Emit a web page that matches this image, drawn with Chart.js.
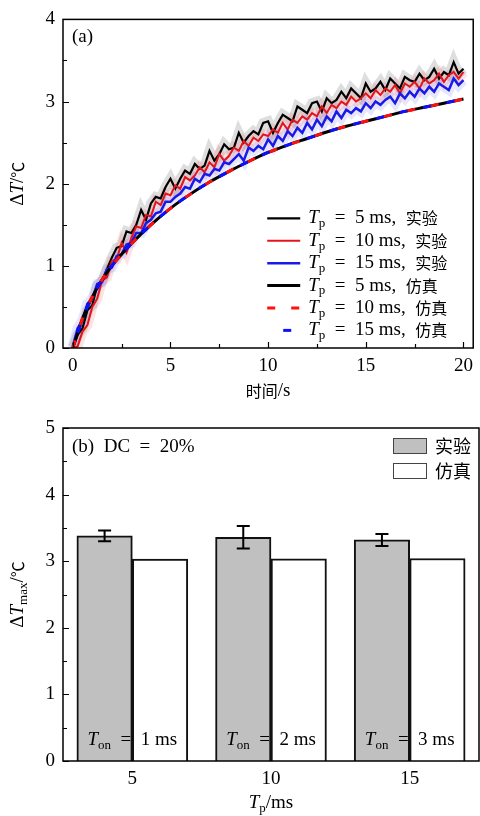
<!DOCTYPE html>
<html>
<head>
<meta charset="utf-8">
<script src="https://cdn.jsdelivr.net/npm/chart.js@4.4.0/dist/chart.umd.min.js"></script>
<style>
  html, body { margin: 0; padding: 0; background: #fff; }
  #top { position: relative; width: 480px; height: 405px; }
  #bottom { position: relative; width: 480px; height: 411px; }
</style>
</head>
<body>
<div id="top"><canvas id="chartA"></canvas></div>
<div id="bottom"><canvas id="chartB"></canvas></div>
<script>
// (a) temperature rise vs time, sampled every 0.25 s
const expTimes = Array.from({ length: 81 }, (_, i) => i * 0.25);
const expT5 = [
  0.00, 0.16, 0.24, 0.46, 0.52, 0.76, 0.82, 0.96, 1.10, 1.22,
  1.24, 1.42, 1.40, 1.50, 1.68, 1.56, 1.76, 1.84, 1.82, 1.96,
  2.06, 1.94, 2.06, 2.16, 2.12, 2.24, 2.18, 2.22, 2.40, 2.28,
  2.36, 2.48, 2.42, 2.44, 2.62, 2.50, 2.58, 2.64, 2.60, 2.74,
  2.76, 2.62, 2.74, 2.84, 2.80, 2.76, 2.94, 2.90, 2.86, 2.98,
  3.00, 2.88, 3.04, 2.98, 3.02, 3.12, 3.04, 3.16, 3.10, 3.04,
  3.22, 3.12, 3.16, 3.24, 3.14, 3.28, 3.22, 3.16, 3.30, 3.26,
  3.24, 3.34, 3.26, 3.30, 3.40, 3.28, 3.36, 3.32, 3.48, 3.34,
  3.40
];
const expT10 = [
  0.00, 0.02, 0.20, 0.28, 0.50, 0.60, 0.82, 0.86, 1.06, 1.08,
  1.28, 1.16, 1.34, 1.48, 1.46, 1.62, 1.60, 1.78, 1.74, 1.88,
  1.86, 1.98, 1.94, 2.08, 2.04, 2.10, 2.20, 2.14, 2.26, 2.20,
  2.36, 2.28, 2.34, 2.44, 2.40, 2.52, 2.46, 2.56, 2.52, 2.60,
  2.58, 2.66, 2.62, 2.74, 2.66, 2.78, 2.74, 2.82, 2.78, 2.86,
  2.82, 2.94, 2.86, 2.96, 2.92, 3.00, 2.96, 3.06, 3.00, 3.04,
  3.10, 3.04, 3.14, 3.08, 3.16, 3.12, 3.20, 3.10, 3.22, 3.18,
  3.24, 3.16, 3.28, 3.22, 3.26, 3.34, 3.24, 3.32, 3.36, 3.28,
  3.36
];
const expT15 = [
  0.02, 0.24, 0.34, 0.54, 0.60, 0.78, 0.80, 0.96, 0.98, 1.12,
  1.14, 1.26, 1.28, 1.40, 1.40, 1.52, 1.56, 1.64, 1.66, 1.78,
  1.78, 1.84, 1.88, 1.96, 1.94, 2.06, 2.02, 2.12, 2.10, 2.18,
  2.16, 2.26, 2.24, 2.30, 2.36, 2.28, 2.44, 2.40, 2.46, 2.42,
  2.54, 2.46, 2.58, 2.52, 2.64, 2.58, 2.68, 2.62, 2.74, 2.66,
  2.78, 2.70, 2.82, 2.76, 2.88, 2.80, 2.90, 2.86, 2.92, 2.88,
  2.98, 2.92, 3.00, 2.96, 3.02, 3.06, 2.98, 3.10, 3.04, 3.12,
  3.06, 3.16, 3.10, 3.18, 3.12, 3.22, 3.18, 3.14, 3.28, 3.20,
  3.26
];
// simulated curves for the three periods coincide
const simTimes = [0, 0.25, 0.5, 0.75, 1, 1.5, 2, 2.5, 3, 4, 5, 6, 7, 8, 9, 10, 11, 12, 13, 14, 15, 16, 17, 18, 19, 20];
const simDT = [0, 0.18, 0.36, 0.5, 0.62, 0.83, 1.0, 1.14, 1.27, 1.5, 1.7, 1.87, 2.02, 2.15, 2.27, 2.38, 2.47, 2.55, 2.63, 2.7, 2.76, 2.82, 2.88, 2.93, 2.98, 3.03];
const xTicksA = [0, 2.5, 5, 7.5, 10, 12.5, 15, 17.5, 20];

// (b) maximum temperature rise, DC = 20%
const periods = [5, 10, 15];
const onTimes = [1, 2, 3];
const expMax = [3.38, 3.36, 3.32];
const expErr = [0.08, 0.17, 0.09];
const simMax = [3.03, 3.035, 3.04];

const SERIF = "'Liberation Serif', 'Noto Sans CJK SC', serif";
const CJK = "'Noto Sans CJK SC', sans-serif";
const FS = 19;
const EN = '\u2002';

function runFont(style, size) {
  if (style === 'i') return `italic ${size}px ${SERIF}`;
  if (style === 'sub') return `${Math.round(size * 0.7)}px ${SERIF}`;
  if (style === 'c') return `${Math.round(size * 0.84)}px ${CJK}`;
  return `${size}px ${SERIF}`;
}

// draws a list of [text, style] pieces, style '' | 'i' | 'sub' | 'c'
function drawRuns(ctx, runs, x, y, size, align) {
  let w = 0;
  runs.forEach(([t, s]) => { ctx.font = runFont(s, size); w += ctx.measureText(t).width; });
  let cx = align === 'center' ? x - w / 2 : (align === 'right' ? x - w : x);
  ctx.textAlign = 'left';
  ctx.textBaseline = 'middle';
  runs.forEach(([t, s]) => {
    ctx.font = runFont(s, size);
    ctx.fillText(t, cx, s === 'sub' ? y + size * 0.28 : y);
    cx += ctx.measureText(t).width;
  });
}

const frameTicks = {
  id: 'frameTicks',
  afterDraw(chart, args, opts) {
    const { ctx, chartArea: a } = chart;
    const sx = chart.scales.x, sy = chart.scales.y;
    ctx.save();
    ctx.strokeStyle = '#000';
    ctx.lineWidth = 1.2;
    ctx.beginPath();
    sy.ticks.forEach(t => {
      const py = Math.round(sy.getPixelForValue(t.value)) + 0.5;
      const len = Number.isInteger(t.value) ? 6 : 4;
      ctx.moveTo(a.left, py);
      ctx.lineTo(a.left + len, py);
    });
    if (opts.xTicks) {
      sx.ticks.forEach(t => {
        const px = Math.round(sx.getPixelForValue(t.value)) + 0.5;
        const len = t.value % 5 === 0 ? 6 : 4;
        ctx.moveTo(px, a.bottom);
        ctx.lineTo(px, a.bottom - len);
      });
    }
    ctx.stroke();
    ctx.lineWidth = 1.5;
    ctx.strokeRect(a.left, a.top, a.right - a.left, a.bottom - a.top);
    ctx.restore();
  }
};

function lineSet(label, data, color, width, dash, offset, order, extra) {
  return Object.assign({
    label, data,
    borderColor: color,
    borderWidth: width,
    borderDash: dash,
    borderDashOffset: offset,
    borderCapStyle: 'butt',
    pointRadius: 0,
    fill: false,
    order
  }, extra || {});
}

const simPoints = simTimes.map((t, i) => ({ x: t, y: simDT[i] }));
const smooth = { cubicInterpolationMode: 'monotone' };

const datasetsA = [
  lineSet('Tp = 5 ms, 实验', expT5, '#000000', 2.2, [], 0, 5),
  lineSet('Tp = 10 ms, 实验', expT10, '#e3141c', 2, [], 0, 4),
  lineSet('Tp = 15 ms, 实验', expT15, '#1a1ae6', 2.5, [], 0, 3),
  lineSet('Tp = 5 ms, 仿真', simPoints, '#000000', 3, [], 0, 2, smooth),
  lineSet('Tp = 10 ms, 仿真', simPoints, '#ff1010', 3, [8, 16], 0, 1, smooth),
  lineSet('Tp = 15 ms, 仿真', simPoints, '#1010ff', 3, [8, 16], 8, 0, smooth),
  lineSet('halo5', expT5, 'rgba(0,0,0,0.13)', 10, [], 0, 8, { halo: true }),
  lineSet('halo10', expT10, 'rgba(240,50,60,0.14)', 10, [], 0, 7, { halo: true }),
  lineSet('halo15', expT15, 'rgba(50,50,240,0.12)', 10, [], 0, 6, { halo: true })
];

const decorA = {
  id: 'decorA',
  afterDraw(chart) {
    const { ctx, chartArea: a } = chart;
    ctx.save();
    ctx.fillStyle = '#000';
    drawRuns(ctx, [['(a)', '']], a.left + 9, a.top + 18, FS, 'left');
    drawRuns(ctx, [['时间', 'c'], ['/s', '']], (a.left + a.right) / 2, a.bottom + 43, FS, 'center');
    ctx.save();
    ctx.translate(18, (a.top + a.bottom) / 2);
    ctx.rotate(-Math.PI / 2);
    drawRuns(ctx, [['Δ', ''], ['T', 'i'], ['/', ''], ['℃', 'c']], 0, 0, FS, 'center');
    ctx.restore();
    // legend
    chart.data.datasets.filter(d => !d.halo).forEach((d, i) => {
      const y = a.top + 199 + i * 22.4;
      ctx.save();
      ctx.strokeStyle = d.borderColor;
      ctx.lineWidth = d.borderWidth;
      ctx.setLineDash(d.borderDash);
      ctx.lineDashOffset = d.borderDashOffset;
      ctx.beginPath();
      ctx.moveTo(a.right - 206, y);
      ctx.lineTo(a.right - 173, y);
      ctx.stroke();
      ctx.restore();
      const cut = d.label.lastIndexOf(' ');
      const latin = d.label.slice(2, cut).replace(' = ', EN + '=' + EN) + EN;
      drawRuns(ctx, [['T', 'i'], ['p', 'sub'], [latin, ''], [d.label.slice(cut + 1), 'c']],
        a.right - 165, y, FS, 'left');
    });
    ctx.restore();
  }
};

new Chart(document.getElementById('chartA'), {
  type: 'line',
  data: { labels: expTimes, datasets: datasetsA },
  options: {
    responsive: true,
    maintainAspectRatio: false,
    animation: false,
    events: [],
    layout: { padding: { top: 16, right: 2, left: 0, bottom: 0 } },
    plugins: { legend: { display: false }, tooltip: { enabled: false }, frameTicks: { xTicks: true } },
    scales: {
      x: {
        type: 'linear', min: -0.5, max: 20.5,
        grid: { display: false, drawTicks: false }, border: { display: false },
        afterBuildTicks: s => { s.ticks = xTicksA.map(v => ({ value: v })); },
        afterFit: s => { s.height = 57; },
        ticks: {
          autoSkip: false, maxRotation: 0, padding: 7, color: '#000',
          font: { family: SERIF, size: FS },
          callback: v => (v % 5 === 0 ? v : '')
        }
      },
      y: {
        min: 0, max: 4,
        grid: { display: false, drawTicks: false }, border: { display: false },
        afterFit: s => { s.width = 63; },
        ticks: {
          stepSize: 0.5, padding: 8, color: '#000',
          font: { family: SERIF, size: FS },
          callback: v => (Number.isInteger(v) ? v : '')
        }
      }
    }
  },
  plugins: [frameTicks, decorA]
});

// (b)
const decorB = {
  id: 'decorB',
  afterDatasetsDraw(chart) {
    const { ctx } = chart;
    const sy = chart.scales.y;
    ctx.save();
    ctx.strokeStyle = '#000';
    ctx.lineWidth = 2;
    chart.getDatasetMeta(0).data.forEach((bar, i) => {
      const top = sy.getPixelForValue(expMax[i] + expErr[i]);
      const bot = sy.getPixelForValue(expMax[i] - expErr[i]);
      ctx.beginPath();
      ctx.moveTo(bar.x, top); ctx.lineTo(bar.x, bot);
      ctx.moveTo(bar.x - 6.5, top); ctx.lineTo(bar.x + 6.5, top);
      ctx.moveTo(bar.x - 6.5, bot); ctx.lineTo(bar.x + 6.5, bot);
      ctx.stroke();
    });
    ctx.restore();
  },
  afterDraw(chart) {
    const { ctx, chartArea: a } = chart;
    const sx = chart.scales.x;
    ctx.save();
    ctx.fillStyle = '#000';
    drawRuns(ctx, [['(b)' + EN + 'DC' + EN + '=' + EN + '20%', '']], a.left + 9, a.top + 19, FS, 'left');
    periods.forEach((p, i) => {
      drawRuns(ctx, [['T', 'i'], ['on', 'sub'], [EN + '=' + EN + onTimes[i] + ' ms', '']],
        sx.getPixelForValue(p), a.bottom - 21, FS, 'center');
    });
    drawRuns(ctx, [['T', 'i'], ['p', 'sub'], ['/ms', '']], (a.left + a.right) / 2, a.bottom + 42, FS, 'center');
    ctx.save();
    ctx.translate(18, (a.top + a.bottom) / 2);
    ctx.rotate(-Math.PI / 2);
    drawRuns(ctx, [['Δ', ''], ['T', 'i'], ['max', 'sub'], ['/', ''], ['℃', 'c']], 0, 0, FS, 'center');
    ctx.restore();
    // legend
    chart.data.datasets.forEach((d, i) => {
      const y = a.top + 10 + i * 25;
      ctx.fillStyle = d.backgroundColor;
      ctx.fillRect(a.right - 86, y, 34, 16);
      ctx.strokeStyle = '#444';
      ctx.lineWidth = 1;
      ctx.strokeRect(a.right - 85.5, y + 0.5, 33, 15);
      ctx.fillStyle = '#000';
      drawRuns(ctx, [[d.label, 'c']], a.right - 44, y + 8, 21, 'left');
    });
    ctx.restore();
  }
};

new Chart(document.getElementById('chartB'), {
  type: 'bar',
  data: {
    datasets: [
      {
        label: '实验',
        data: periods.map((p, i) => ({ x: p - 1, y: expMax[i] })),
        backgroundColor: '#c0c0c0', borderColor: '#111', borderWidth: 2
      },
      {
        label: '仿真',
        data: periods.map((p, i) => ({ x: p + 1, y: simMax[i] })),
        backgroundColor: '#ffffff', borderColor: '#111', borderWidth: 2
      }
    ]
  },
  options: {
    responsive: true,
    maintainAspectRatio: false,
    animation: false,
    events: [],
    grouped: false,
    barPercentage: 1,
    categoryPercentage: 1,
    layout: { padding: { top: 23, right: 1, left: 0, bottom: 0 } },
    plugins: { legend: { display: false }, tooltip: { enabled: false }, frameTicks: { xTicks: false } },
    scales: {
      x: {
        type: 'linear', min: 2.5, max: 17.5, offset: false,
        grid: { display: false, drawTicks: false, offset: false }, border: { display: false },
        afterBuildTicks: s => { s.ticks = periods.map(v => ({ value: v })); },
        afterFit: s => { s.height = 55; },
        ticks: { autoSkip: false, maxRotation: 0, padding: 7, color: '#000', font: { family: SERIF, size: FS } }
      },
      y: {
        min: 0, max: 5,
        grid: { display: false, drawTicks: false }, border: { display: false },
        afterFit: s => { s.width = 63; },
        ticks: {
          stepSize: 0.5, padding: 8, color: '#000',
          font: { family: SERIF, size: FS },
          callback: v => (Number.isInteger(v) ? v : '')
        }
      }
    }
  },
  plugins: [frameTicks, decorB]
});
</script>
</body>
</html>
